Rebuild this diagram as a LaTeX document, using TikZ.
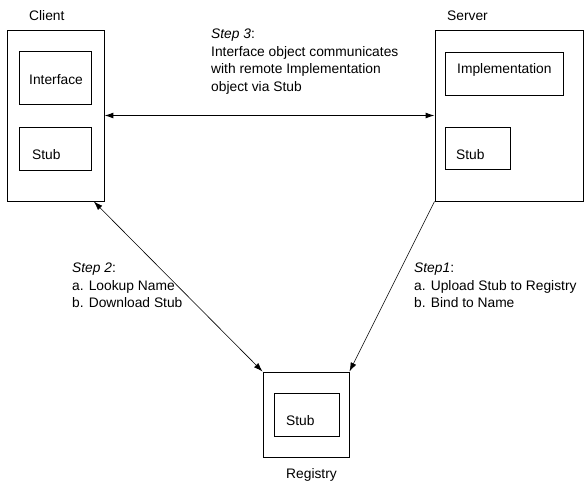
\documentclass[tikz,border=0pt]{standalone}
\usepackage{fontspec}
\setmainfont{Liberation Sans}
\usetikzlibrary{arrows.meta}
\tikzset{
  box/.style={draw=black, line width=0.9pt, inner sep=0pt, fill=none},
  txt/.style={anchor=base west, inner sep=0pt, font=\fontsize{13.8}{17.5}\selectfont},
  blk/.style={anchor=north west, inner sep=0pt, align=left, font=\fontsize{13.8}{17.5}\selectfont},
  conn/.style={line width=0.6pt, {Latex[length=9pt,width=6pt]}-{Latex[length=9pt,width=6pt]}},
  oneway/.style={line width=0.6pt, -{Latex[length=9pt,width=6pt]}},
}
\begin{document}
\begin{tikzpicture}[x=1pt,y=-1pt]
\useasboundingbox (0,0) rectangle (584,480);
% main boxes
\node[box, minimum width=97pt, minimum height=171pt] (client) at (55.5,115.5) {};
\node[box, minimum width=148pt, minimum height=171pt] (server) at (509,115.5) {};
\node[box, minimum width=86pt, minimum height=85pt] (registry) at (306,414.5) {};
% inner boxes
\node[box, minimum width=72pt, minimum height=53pt] (cif) at (55,77.5) {};
\node[box, minimum width=72pt, minimum height=43pt] (cstub) at (55,148.5) {};
\node[box, minimum width=118pt, minimum height=43pt] (simpl) at (504,73.5) {};
\node[box, minimum width=65pt, minimum height=42pt] (sstub) at (477.5,148) {};
\node[box, minimum width=65pt, minimum height=43pt] (rstub) at (306.5,414.5) {};
% labels
\node[txt] (lclient) at (29,20) {Client};
\node[txt] (lserver) at (447,20) {Server};
\node[txt] (lregistry) at (286,478) {Registry};
\node[txt] (tif) at (29,84) {Interface};
\node[txt] (tcstub) at (32,159) {Stub};
\node[txt] (timpl) at (457,73) {Implementation};
\node[txt] (tsstub) at (456,159) {Stub};
\node[txt] (trstub) at (286,425) {Stub};
% step texts
\node[blk] (step3) at (211,29) {\textit{Step 3}:\\Interface object communicates\\with remote Implementation\\object via Stub};
\node[blk] (step2) at (72,263) {\textit{Step 2}:\\a. Lookup Name\\b. Download Stub};
\node[blk] (step1) at (414,263) {\textit{Step1}:\\a. Upload Stub to Registry\\b. Bind to Name};
% connectors
\draw[conn, line width=1pt] (client.east) -- (server.west);
\draw[conn] (client.-66.2) -- (registry.north west);
\draw[oneway] (server.south west) -- (registry.north east);
\end{tikzpicture}
\end{document}
